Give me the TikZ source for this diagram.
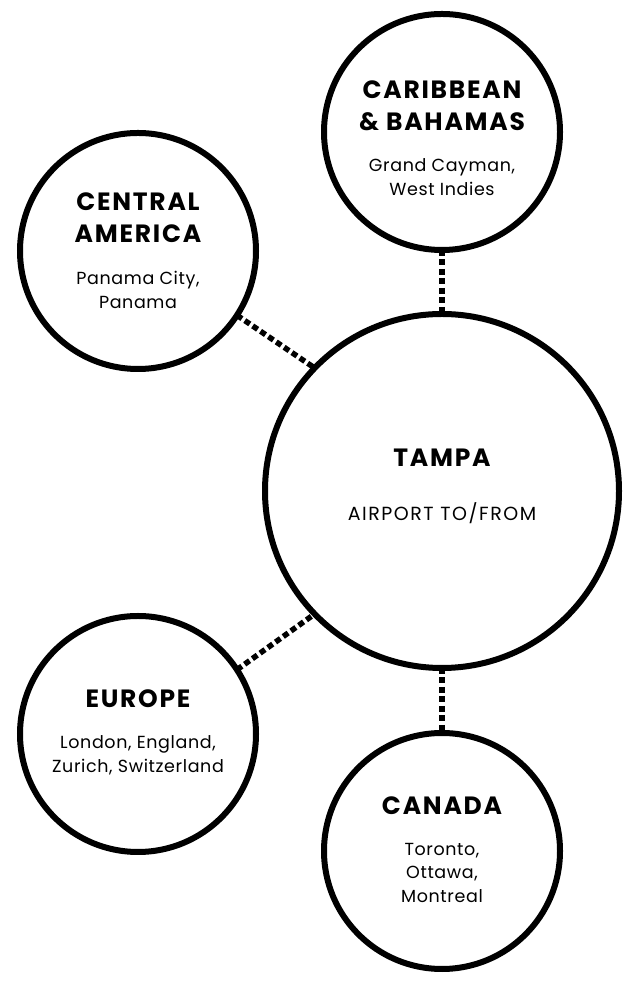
\documentclass[tikz,border=0pt]{standalone}
\usepackage{fontspec}
\setmainfont{Poppins}
\usepackage{tikz}
\usetikzlibrary{positioning}

\begin{document}
\begin{tikzpicture}[x=1pt, y=1pt,
  destino/.style={circle, draw=black, line width=6pt, fill=white, minimum size=236pt, inner sep=0pt, outer sep=0pt},
  hub/.style={destino, minimum size=354pt},
  region/.style={font=\fontsize{25}{32}\selectfont\bfseries\addfontfeature{LetterSpace=7}, align=center, inner sep=0pt},
  ciudades/.style={font=\fontsize{17.5}{23.5}\selectfont\addfontfeature{LetterSpace=3.5}, align=center, inner sep=0pt},
  enlace/.style={line width=5.5pt, dash pattern=on 6pt off 3.5pt}
]
\useasboundingbox (0,0) rectangle (636,988);

\node[hub] (tpa) at (442,497) {};
\node[destino, above=64pt of tpa] (car) {};
\node[destino, below=65pt of tpa] (can) {};
\node[destino] (cen) at (138,737) {};
\node[destino] (eur) at (138,254) {};

\draw[enlace] (car) -- (tpa);
\draw[enlace] (tpa) -- (can);
\draw[enlace] (cen.-33) -- (tpa.136);
\draw[enlace] (eur.33) -- (tpa.224);

\node[region, above=24pt of tpa.center] (tpatit) {TAMPA};
\node[ciudades, font=\fontsize{19}{24}\selectfont\addfontfeature{LetterSpace=8}, below=35pt of tpatit] (tpasub) {AIRPORT TO/FROM};

\node[region, above=1.5pt of car.center] (cartit) {CARIBBEAN\\\& BAHAMAS};
\node[ciudades, below=28pt of cartit] (carsub) {Grand Cayman,\\West Indies};

\node[region, above=8pt of cen.center] (centit) {CENTRAL\\AMERICA};
\node[ciudades, below=28pt of centit] (censub) {Panama City,\\Panama};

\node[region, above=26.5pt of eur.center] (eurtit) {EUROPE};
\node[ciudades, below=28pt of eurtit] (eursub) {London, England,\\Zurich, Switzerland};

\node[region, above=36pt of can.center] (cantit) {CANADA};
\node[ciudades, below=28pt of cantit] (cansub) {Toronto,\\Ottawa,\\Montreal};
\end{tikzpicture}
\end{document}
